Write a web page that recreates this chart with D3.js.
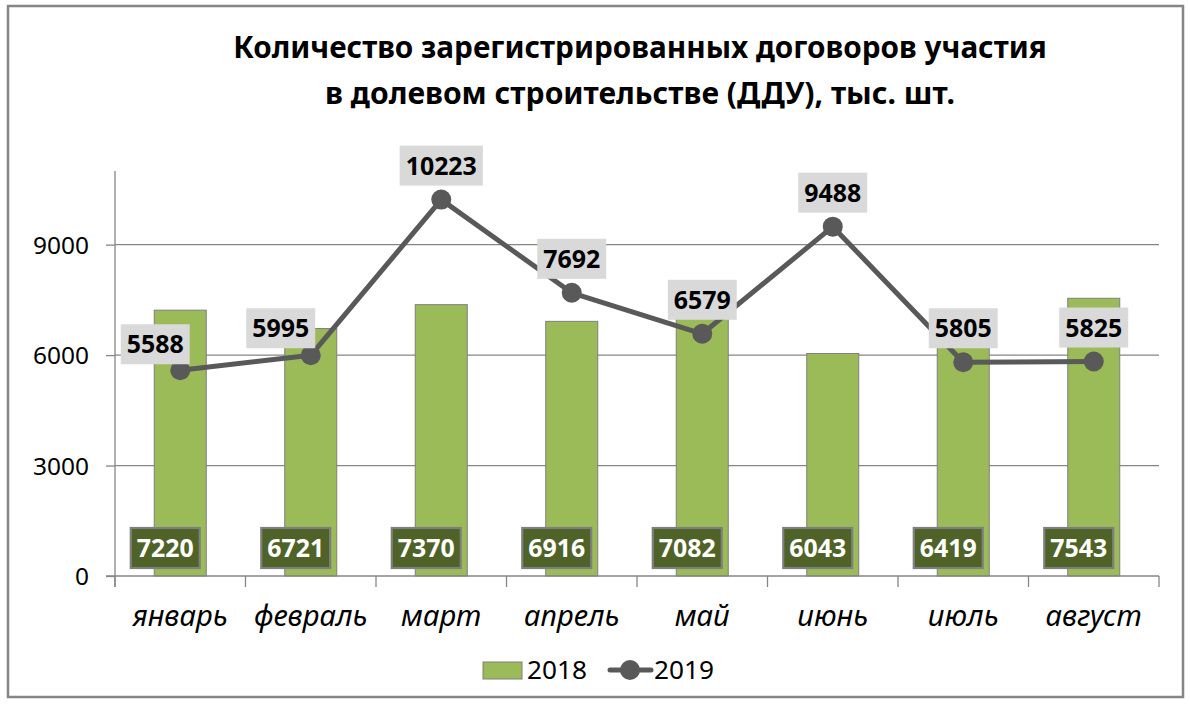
<!DOCTYPE html>
<html>
<head>
<meta charset="utf-8">
<script src="https://cdn.jsdelivr.net/npm/d3@7"></script>
<style>
  html, body { margin: 0; padding: 0; background: #fff; }
  svg { display: block; }
  text { font-family: "Noto Sans", "Open Sans", "DejaVu Sans", sans-serif; }
</style>
</head>
<body>
<svg id="chart" width="1190" height="706"></svg>
<script>
// ---- data ----
const titleLines = ["Количество зарегистрированных договоров участия", "в долевом строительстве (ДДУ), тыс. шт."];
const months = ["январь", "февраль", "март", "апрель", "май", "июнь", "июль", "август"];
const values2018 = [7220, 6721, 7370, 6916, 7082, 6043, 6419, 7543];
const values2019 = [5588, 5995, 10223, 7692, 6579, 9488, 5805, 5825];
const yTicks = [0, 3000, 6000, 9000];
const seriesNames = ["2018", "2019"];

// ---- layout (not data) ----
const W = 1190, H = 706;
const plot = { left: 115, right: 1159, top: 171, bottom: 576 };
const yMax = 11000;
const labelNudge = { "январь": [-25, 8], "февраль": [-30, 7] };
const colBar = "#9BBB59", colLine = "#595959", colGrid = "#868686";

const svg = d3.select("#chart");

// font-size fitting helper: size so that `sample` is `target` px wide
function fitSize(sample, target, attrs) {
  const t = svg.append("text").attr("font-size", 20).text(sample);
  Object.entries(attrs || {}).forEach(([k, v]) => t.attr(k, v));
  const len = t.node().getComputedTextLength();
  t.remove();
  return 20 * target / len;
}
const fsLabel = fitSize("5588", 57, { "font-weight": "bold" });
const fsTick = fitSize("9000", 56, {});
const fsMonth = fitSize("январь", 95, { "font-style": "italic" });
const fsLegend = fitSize("2018", 60, {});

// outer frame
svg.append("rect").attr("x", 8).attr("y", 6).attr("width", 1175).attr("height", 691)
  .attr("fill", "#fff").attr("stroke", "#858585").attr("stroke-width", 2.5);

// title, fitted to reference widths
const titleTargets = [[640, 58, 814], [640, 104, 630]];
titleLines.forEach((t, i) => {
  const [cx, by, tw] = titleTargets[i];
  const el = svg.append("text").attr("x", cx).attr("y", by).attr("text-anchor", "middle")
    .attr("font-weight", "bold").attr("font-size", 26).attr("fill", "#000").text(t);
  const len = el.node().getComputedTextLength();
  el.attr("font-size", 26 * tw / len);
});

const xBand = d3.scaleBand().domain(months).range([plot.left, plot.right]);
const y = d3.scaleLinear().domain([0, yMax]).range([plot.bottom, plot.top]);
const cxOf = m => xBand(m) + xBand.bandwidth() / 2;

// gridlines
svg.append("g").selectAll("line").data(yTicks.filter(d => d > 0)).join("line")
  .attr("x1", plot.left).attr("x2", plot.right)
  .attr("y1", d => y(d)).attr("y2", d => y(d))
  .attr("stroke", colGrid).attr("stroke-width", 1.3);

// y axis
const yAxis = svg.append("g").attr("transform", `translate(${plot.left},0)`)
  .call(d3.axisLeft(y).tickValues(yTicks).tickSize(9).tickPadding(17).tickFormat(d3.format("d")));
yAxis.select(".domain").attr("stroke", colGrid).attr("stroke-width", 1.3)
  .attr("d", `M0,${plot.top}V${plot.bottom + 11}`);
yAxis.selectAll(".tick line").attr("stroke", colGrid).attr("stroke-width", 1.3);
yAxis.selectAll(".tick text").attr("font-size", fsTick).attr("fill", "#000")
  .attr("font-family", "'Noto Sans', sans-serif").attr("dy", "0.36em");

// bars
svg.append("g").selectAll("rect").data(months).join("rect")
  .attr("x", m => cxOf(m) - 26)
  .attr("width", 52)
  .attr("y", (m, i) => y(values2018[i]))
  .attr("height", (m, i) => plot.bottom - y(values2018[i]))
  .attr("fill", colBar).attr("stroke", "#7F7F7F").attr("stroke-width", 1);

// x axis
const xAxisG = svg.append("g").attr("transform", `translate(0,${plot.bottom})`);
xAxisG.append("line").attr("x1", plot.left - 9).attr("x2", plot.right)
  .attr("stroke", colGrid).attr("stroke-width", 1.3);
const bounds = months.map(m => xBand(m)).concat([plot.right]);
xAxisG.selectAll("line.tk").data(bounds).join("line").attr("class", "tk")
  .attr("x1", d => d).attr("x2", d => d).attr("y1", 0).attr("y2", 11)
  .attr("stroke", colGrid).attr("stroke-width", 1.3);
xAxisG.selectAll("text").data(months).join("text")
  .attr("x", m => cxOf(m)).attr("y", 50)
  .attr("text-anchor", "middle").attr("font-style", "italic").attr("font-size", fsMonth)
  .attr("fill", "#000").text(m => m);

// bar labels
const bl = svg.append("g");
months.forEach((m, i) => {
  const cx = cxOf(m) - 15, cy = 548;
  const g = bl.append("g");
  const t = g.append("text").attr("x", cx).attr("y", cy).attr("dy", "0.36em").attr("text-anchor", "middle")
    .attr("font-weight", "bold").attr("font-size", fsLabel).attr("fill", "#fff").text(values2018[i]);
  const w = t.node().getComputedTextLength() + 12;
  g.insert("rect", "text").attr("x", cx - w / 2).attr("y", cy - 20).attr("width", w).attr("height", 40)
    .attr("fill", "#4F6228").attr("stroke", "#7F7F7F").attr("stroke-width", 2.2);
});

// line 2019
const pts = months.map((m, i) => [cxOf(m), y(values2019[i])]);
svg.append("path").datum(pts).attr("d", d3.line())
  .attr("fill", "none").attr("stroke", colLine).attr("stroke-width", 5).attr("stroke-linejoin", "round");
svg.append("g").selectAll("circle").data(pts).join("circle")
  .attr("cx", d => d[0]).attr("cy", d => d[1]).attr("r", 10).attr("fill", colLine);

// line labels
const ll = svg.append("g");
months.forEach((m, i) => {
  const nd = labelNudge[m] || [0, 0];
  const cx = pts[i][0] + nd[0], cy = pts[i][1] - 34 + nd[1];
  const g = ll.append("g");
  const t = g.append("text").attr("x", cx).attr("y", cy).attr("dy", "0.36em").attr("text-anchor", "middle")
    .attr("font-weight", "bold").attr("font-size", fsLabel).attr("fill", "#000").text(values2019[i]);
  const w = t.node().getComputedTextLength() + 12;
  g.insert("rect", "text").attr("x", cx - w / 2).attr("y", cy - 20).attr("width", w).attr("height", 40)
    .attr("fill", "#D9D9D9");
});

// legend
const lg = svg.append("g");
lg.append("rect").attr("x", 483).attr("y", 662).attr("width", 39).attr("height", 17)
  .attr("fill", colBar).attr("stroke", "#7F7F7F").attr("stroke-width", 1);
lg.append("text").attr("x", 527).attr("y", 679).attr("font-size", fsLegend).attr("fill", "#000").text(seriesNames[0]);
lg.append("line").attr("x1", 610).attr("x2", 651).attr("y1", 670).attr("y2", 670)
  .attr("stroke", colLine).attr("stroke-width", 5).attr("stroke-linecap", "round");
lg.append("circle").attr("cx", 630).attr("cy", 670).attr("r", 10).attr("fill", colLine);
lg.append("text").attr("x", 654).attr("y", 679).attr("font-size", fsLegend).attr("fill", "#000").text(seriesNames[1]);
</script>
</body>
</html>
